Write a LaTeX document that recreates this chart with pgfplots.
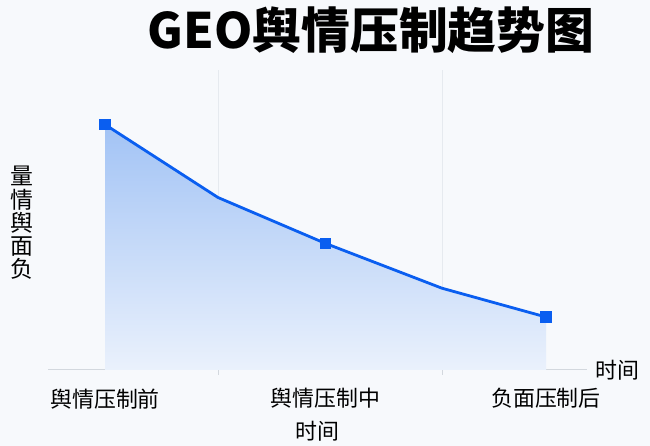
\documentclass[border=0pt]{standalone}
\usepackage{fontspec}
\setmainfont{Noto Sans CJK SC}
\newfontfamily\titlefont{Noto Sans CJK SC Black}
\usepackage{pgfplots}
\pgfplotsset{compat=1.18}
\definecolor{bgcol}{HTML}{F7F9FC}
\definecolor{linecol}{HTML}{0A5EF0}
\definecolor{gridcol}{HTML}{E6EAEF}
\definecolor{axiscol}{HTML}{D3D8DE}
\definecolor{filltop}{HTML}{A2C3F5}
\definecolor{fillbot}{HTML}{EAF1FC}

\begin{document}
\begin{tikzpicture}[x=1bp,y=1bp]
\fill[bgcol] (0,0) rectangle (650,446);
\begin{axis}[
    at={(48bp,76bp)}, anchor=south west, scale only axis,
    width=539bp, height=300bp,
    xmin=-0.259, xmax=2.186, ymin=0, ymax=128,
    axis x line*=bottom, axis y line=none,
    x axis line style={axiscol, line width=1bp, -},
    xtick={0,1,2},
    xticklabels={舆情压制前,舆情压制中,负面压制后},
    major tick length=0pt,
    minor xtick={0.512,1.528},
    minor tick length=5bp,
    tick align=outside,
    minor tick style={axiscol, line width=0.8bp},
    xminorgrids,
    minor grid style={gridcol, line width=0.8bp},
    ytick={20,40,...,120},
    yticklabel=\empty,
    ymajorgrids,
    major grid style={gridcol, line width=0.8bp},
    xticklabel style={font=\fontsize{22}{24}\selectfont, yshift=-15bp},
    xlabel={时间},
    xlabel style={font=\fontsize{22}{24}\selectfont, yshift=-6bp},
    clip=false,
]
\addplot[draw=none, top color=filltop, bottom color=fillbot, forget plot]
    coordinates {(0,104.7) (0.512,73.6) (1,54.0) (1.528,34.9) (2,22.6)} \closedcycle;
\addplot[linecol, line width=2.8bp, mark=square*, mark indices={1,3,5},
    mark size=4.5bp, mark options={rounded corners=1bp}]
    coordinates {(0,104.7) (0.512,73.6) (1,54.0) (1.528,34.9) (2,22.6)};
\end{axis}
\node[anchor=west, font=\fontsize{22}{24}\selectfont] at (592,76) {时间};
\node[font=\fontsize{49}{52}\selectfont\titlefont] at (371,416) {GEO舆情压制趋势图};
\node[align=center, font=\fontsize{23}{23.4}\selectfont] at (22,223) {量\\情\\舆\\面\\负};
\pgfresetboundingbox
\useasboundingbox (0,0) rectangle (650,446);
\end{tikzpicture}
\end{document}
